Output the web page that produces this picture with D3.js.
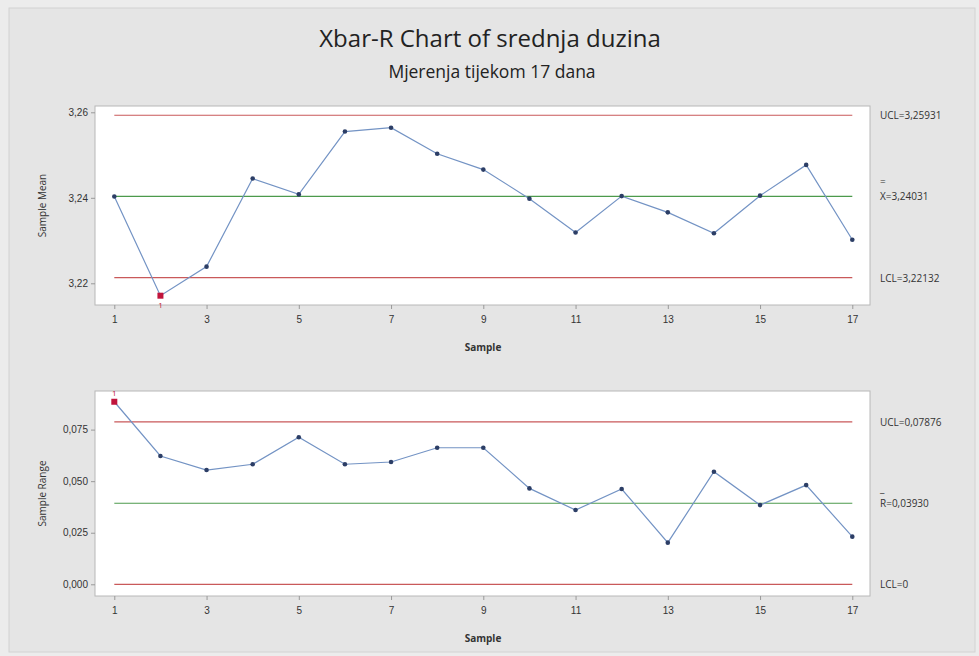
<!DOCTYPE html>
<html><head><meta charset="utf-8">
<script src="https://cdn.jsdelivr.net/npm/d3@7"></script>
<style>body{margin:0;background:#ececec;}svg{display:block;font-family:"Open Sans","Noto Sans",sans-serif;}</style>
</head><body>
<svg id="c" width="979" height="656"></svg>
<script>
const samples = d3.range(1, 18);
const meanValues = [3.2403,3.2171,3.2239,3.2445,3.2408,3.2555,3.2564,3.2503,3.2466,3.2398,3.2319,3.2404,3.2366,3.2317,3.2405,3.2477,3.2302];
const rangeValues = [0.0885,0.0622,0.0554,0.0582,0.0713,0.0582,0.0593,0.0662,0.0662,0.0465,0.0360,0.0462,0.0202,0.0546,0.0384,0.0481,0.0231];
const meanLimits = {ucl:3.25931, cl:3.24031, lcl:3.22132};
const rangeLimits = {ucl:0.07876, cl:0.03930, lcl:0};
const meanTicks = [3.22, 3.24, 3.26];
const rangeTicks = [0, 0.025, 0.05, 0.075];
const xTicks = [1,3,5,7,9,11,13,15,17];
const meanFlags = [2];
const rangeFlags = [1];

const svg = d3.select("#c");
svg.append("rect").attr("x",9).attr("y",8).attr("width",966).attr("height",644)
  .attr("fill","#e5e5e5").attr("stroke","#d2d2d2");

svg.append("text").attr("x",490).attr("y",47).attr("text-anchor","middle")
  .attr("font-size",24).attr("fill","#222").text("Xbar-R Chart of srednja duzina");
svg.append("text").attr("x",492).attr("y",78).attr("text-anchor","middle")
  .attr("font-size",17.5).attr("fill","#222").text("Mjerenja tijekom 17 dana");

const fmtComma = (d, n) => d3.format("." + n + "f")(d).replace(".", ",");

function panel(cfg){
  const g = svg.append("g");
  g.append("rect").attr("x",95).attr("y",cfg.top).attr("width",775).attr("height",cfg.bottom-cfg.top)
    .attr("fill","#fff").attr("stroke","#b8b8b8");
  const x = d3.scaleLinear().domain([1,17]).range([114.3,852.3]);
  const y = d3.scaleLinear().domain(cfg.domain).range(cfg.range);
  const pts = cfg.values.map((v,i)=>({s:samples[i], v}));
  const ya = g.append("g").attr("transform","translate(95,0)")
    .call(d3.axisLeft(y).tickValues(cfg.ticks).tickSize(4).tickFormat(d=>fmtComma(d,cfg.dec)));
  const xa = g.append("g").attr("transform",`translate(0,${cfg.bottom})`)
    .call(d3.axisBottom(x).tickValues(xTicks).tickSize(4).tickFormat(d3.format("d")));
  [ya,xa].forEach(a=>{a.select(".domain").remove();
    a.selectAll("line").attr("stroke","#999");
    a.selectAll("text").attr("font-size",10).attr("fill","#333");});
  xa.selectAll("text").attr("dy","1.1em");
  [["ucl","#c9595a"],["cl","#4c9a4c"],["lcl","#c9595a"]].forEach(([k,c])=>{
    g.append("line").attr("x1",114.3).attr("x2",852.3).attr("y1",y(cfg.lim[k])).attr("y2",y(cfg.lim[k]))
      .attr("stroke",c).attr("stroke-width",1.2);
  });
  const line = d3.line().x(d=>x(d.s)).y(d=>y(d.v));
  g.append("path").datum(pts).attr("d",line).attr("fill","none")
    .attr("stroke","#7393c4").attr("stroke-width",1.2);
  g.selectAll("circle.pt").data(pts.filter(d=>!cfg.flags.includes(d.s))).join("circle")
    .attr("class","pt").attr("cx",d=>x(d.s)).attr("cy",d=>y(d.v)).attr("r",2.3).attr("fill","#2c3e66");
  g.selectAll("rect.flag").data(pts.filter(d=>cfg.flags.includes(d.s))).join("rect")
    .attr("class","flag").attr("x",d=>x(d.s)-3).attr("y",d=>y(d.v)-3).attr("width",6).attr("height",6).attr("fill","#c0143c");
  g.selectAll("text.flag").data(pts.filter(d=>cfg.flags.includes(d.s))).join("text")
    .attr("class","flag").attr("x",d=>x(d.s)).attr("y",d=>y(d.v)+cfg.flagDy).attr("text-anchor","middle")
    .attr("font-size",8).attr("fill","#c0143c").text("1");
  g.append("text").attr("transform",`translate(46,${(cfg.top+cfg.bottom)/2}) rotate(-90)`)
    .attr("text-anchor","middle").attr("font-size",10).attr("fill","#333").text(cfg.ytitle);
  g.append("text").attr("x",483).attr("y",cfg.bottom+46).attr("text-anchor","middle")
    .attr("font-size",10).attr("font-weight","bold").attr("fill","#333").text("Sample");
  const lx = 880;
  g.append("text").attr("x",lx).attr("y",y(cfg.lim.ucl)+4).attr("font-size",10).attr("fill","#333").text(cfg.uclText);
  g.append("text").attr("x",lx).attr("y",y(cfg.lim.cl)-11).attr("font-size",10).attr("fill","#333").text(cfg.barMark);
  g.append("text").attr("x",lx).attr("y",y(cfg.lim.cl)+4).attr("font-size",10).attr("fill","#333").text(cfg.clText);
  g.append("text").attr("x",lx).attr("y",y(cfg.lim.lcl)+4).attr("font-size",10).attr("fill","#333").text(cfg.lclText);
}

panel({top:106,bottom:305,domain:[3.22,3.26],range:[283.3,112.3],ticks:meanTicks,dec:2,
  lim:meanLimits,values:meanValues,flags:meanFlags,flagDy:12,ytitle:"Sample Mean",
  uclText:"UCL=3,25931",barMark:"=",clText:"X=3,24031",lclText:"LCL=3,22132"});
panel({top:391,bottom:596,domain:[0,0.075],range:[584.3,429.6],ticks:rangeTicks,dec:3,
  lim:rangeLimits,values:rangeValues,flags:rangeFlags,flagDy:-6,ytitle:"Sample Range",
  uclText:"UCL=0,07876",barMark:"_",clText:"R=0,03930",lclText:"LCL=0"});
</script>
</body></html>
